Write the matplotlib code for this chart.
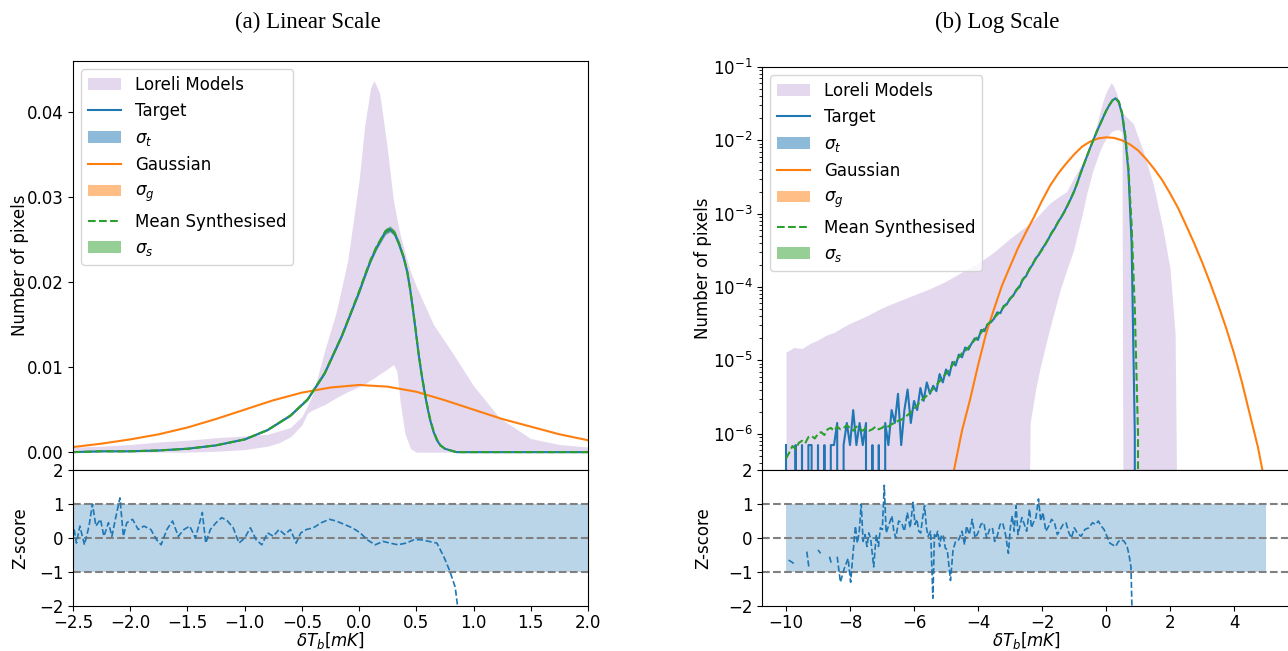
import numpy as np
import matplotlib
matplotlib.use('Agg')
import matplotlib.pyplot as plt

plt.rcParams['font.size'] = 12

# ---------------- (a) linear scale data ----------------
x_lin = [-2.5, -2.25, -2.0, -1.75, -1.5, -1.25, -1.0, -0.8, -0.6, -0.45, -0.3, -0.15,
         0.0, 0.05, 0.1, 0.15, 0.2, 0.23, 0.27, 0.31, 0.35, 0.39, 0.42, 0.445, 0.47,
         0.495, 0.52, 0.545, 0.57, 0.595, 0.62, 0.65, 0.68, 0.71, 0.75, 0.85, 1.0, 1.5, 2.0]
target_lin = [0.0000, 0.0001, 0.0001, 0.0002, 0.0004, 0.0008, 0.0015, 0.0026, 0.0043, 0.0062,
              0.0093, 0.0137, 0.0188, 0.0207, 0.0225, 0.0240, 0.0252, 0.0259, 0.0262, 0.0257,
              0.0244, 0.0228, 0.0212, 0.0192, 0.0168, 0.0142, 0.0115, 0.0092, 0.0072, 0.0054,
              0.0038, 0.0024, 0.0014, 0.0008, 0.0004, 0.0000, 0.0, 0.0, 0.0]
synth_lin = [0.0000, 0.0001, 0.0001, 0.0002, 0.0004, 0.0008, 0.0015, 0.0026, 0.0043, 0.0062,
             0.0093, 0.0137, 0.0189, 0.0208, 0.0226, 0.0241, 0.0253, 0.0260, 0.0263, 0.0258,
             0.0245, 0.0229, 0.0213, 0.0193, 0.0169, 0.0143, 0.0116, 0.0093, 0.0073, 0.0055,
             0.0039, 0.0025, 0.0015, 0.0008, 0.0004, 0.0000, 0.0, 0.0, 0.0]
sig_t_lin = [0, 0.00001, 0.00001, 0.00001, 0.00002, 0.00003, 0.00004, 0.00006, 0.00008, 0.0001,
             0.00013, 0.00016, 0.0002, 0.00022, 0.00024, 0.00026, 0.00028, 0.0003, 0.0003, 0.0003,
             0.00028, 0.00026, 0.00025, 0.00023, 0.00021, 0.00019, 0.00016, 0.00013, 0.0001,
             0.00008, 0.00006, 0.00004, 0.00003, 0.00002, 0.00001, 0, 0, 0, 0]
sig_s_lin = [0, 0.00001, 0.00001, 0.00002, 0.00002, 0.00003, 0.00005, 0.00007, 0.00009, 0.00011,
             0.00014, 0.00018, 0.00022, 0.00024, 0.00026, 0.00028, 0.0003, 0.00032, 0.00032, 0.00032,
             0.0003, 0.00028, 0.00027, 0.00025, 0.00023, 0.0002, 0.00017, 0.00014, 0.00011,
             0.00009, 0.00007, 0.00005, 0.00003, 0.00002, 0.00001, 0, 0, 0, 0]

x_lor_lin = [-2.5, -2.25, -2.0, -1.75, -1.5, -1.25, -1.0, -0.8, -0.7, -0.6, -0.5, -0.45, -0.4,
             -0.3, -0.2, -0.1, 0.0, 0.05, 0.1, 0.13, 0.18, 0.24, 0.3, 0.33, 0.36, 0.4, 0.45,
             0.5, 0.65, 0.82, 1.0, 1.23, 1.5, 1.75, 2.0]
lor_up_lin = [0.0006, 0.0007, 0.0009, 0.0012, 0.0014, 0.0017, 0.0019, 0.0021, 0.0025, 0.0029,
              0.0042, 0.0055, 0.0070, 0.0120, 0.0165, 0.0225, 0.0320, 0.0385, 0.0428, 0.0437,
              0.0422, 0.0364, 0.0296, 0.0275, 0.0255, 0.0235, 0.0212, 0.0195, 0.0150, 0.0116,
              0.0078, 0.0040, 0.0016, 0.0009, 0.0006]
lor_lo_lin = [0, 0, 0, 0, 0, 0.0001, 0.0003, 0.0007, 0.0011, 0.0018, 0.0032, 0.0046, 0.0050,
              0.0056, 0.0064, 0.0071, 0.0077, 0.0080, 0.0085, 0.0087, 0.0092, 0.0097, 0.0103,
              0.0095, 0.0058, 0.0022, 0.0004, 0, 0, 0, 0, 0, 0, 0, 0]

x_gauss_lin = [-2.5, -2.25, -2.0, -1.75, -1.5, -1.25, -1.0, -0.75, -0.5, -0.25, 0.0,
               0.25, 0.5, 0.75, 1.0, 1.25, 1.5, 1.75, 2.0]
gauss_lin = [0.0006, 0.0010, 0.0015, 0.0021, 0.0029, 0.0039, 0.0050, 0.0061, 0.0070, 0.0076,
             0.0079, 0.0077, 0.0071, 0.0061, 0.0050, 0.0039, 0.0030, 0.0021, 0.0014]

z_x_lin = [-2.49, -2.47, -2.44, -2.40, -2.36, -2.33, -2.30, -2.26, -2.23, -2.19, -2.16, -2.13,
           -2.09, -2.06, -2.03, -1.98, -1.93, -1.88, -1.82, -1.77, -1.73, -1.68, -1.63, -1.58,
           -1.53, -1.48, -1.43, -1.37, -1.34, -1.30, -1.25, -1.20, -1.15, -1.10, -1.05, -1.00,
           -0.95, -0.90, -0.85, -0.80, -0.75, -0.70, -0.65, -0.60, -0.55, -0.51, -0.46, -0.40,
           -0.33, -0.26, -0.20, -0.13, -0.06, 0.01, 0.07, 0.14, 0.21, 0.27, 0.34, 0.41, 0.48,
           0.54, 0.61, 0.68, 0.74, 0.79, 0.84, 0.86, 0.88]
z_lin = [0.25, -0.15, 0.35, -0.2, 0.35, 1.0, 0.35, 0.55, 0.05, 0.45, 0.05, 0.55,
         1.18, 0.05, 0.45, 0.55, 0.25, 0.35, 0.25, -0.05, -0.2, 0.25, 0.5, 0.05,
         0.25, 0.35, 0.0, 0.75, -0.15, 0.25, 0.45, 0.6, 0.5, 0.3, -0.15, 0.0,
         0.3, -0.05, -0.2, 0.15, 0.05, 0.25, 0.1, 0.25, -0.15, 0.15, 0.25, 0.3,
         0.45, 0.55, 0.5, 0.4, 0.3, 0.15, -0.05, -0.2, -0.1, -0.15, -0.2, -0.15, -0.05,
         -0.05, -0.1, -0.15, -0.55, -0.95, -1.45, -2.0, -3.0]
zband_x_lin = [-2.5, 2.0]

# ---------------- (b) log scale data ----------------
x_log = np.round(np.linspace(-10.0, 1.1, 112), 2)
target_log = [7e-7, 0, 0, 7e-7, 0, 7e-7, 0, 7e-7, 7e-7, 0,
              7e-7, 0, 7e-7, 0, 7e-7, 7e-7, 1.4e-6, 0, 7e-7, 1.4e-6,
              7e-7, 2.1e-6, 7e-7, 1.4e-6, 7e-7, 1.4e-6, 0, 7e-7, 0, 7e-7,
              0, 1.4e-6, 7e-7, 2.1e-6, 1.4e-6, 3.5e-6, 7e-7, 2.1e-6, 4.0e-6, 1.4e-6,
              2.8e-6, 2.1e-6, 4.2e-6, 2.8e-6, 5.0e-6, 3.5e-6, 4.5e-6, 3.8e-6, 6.5e-6, 5.0e-6,
              7.5e-6, 6.2e-6, 9.5e-6, 8.5e-6, 1.2e-5, 1.1e-5, 1.5e-5, 1.4e-5, 1.7e-5, 2.0e-5,
              1.9e-5, 2.6e-5, 2.5e-5, 3.1e-5, 3.3e-5, 3.7e-5, 4.5e-5, 4.4e-5, 5.5e-5, 5.8e-5,
              7.0e-5, 7.6e-5, 9.2e-5, 1.0e-4, 1.28e-4, 1.4e-4, 1.75e-4, 2.0e-4, 2.45e-4, 2.75e-4,
              3.3e-4, 3.8e-4, 4.5e-4, 5.5e-4, 6.3e-4, 7.7e-4, 8.9e-4, 1.07e-3, 1.3e-3, 1.6e-3,
              2.0e-3, 2.6e-3, 3.5e-3, 4.6e-3, 6.0e-3, 7.8e-3, 1.0e-2, 1.28e-2, 1.6e-2, 2.0e-2,
              2.5e-2, 3.0e-2, 3.5e-2, 3.75e-2, 3.3e-2, 2.3e-2, 1.1e-2, 3.8e-3, 4.0e-4, 1.0e-6,
              0, 0]
synth_log = [4.6e-7, 5.5e-7, 6.8e-7, 6.2e-7, 7.5e-7, 8.0e-7, 7.4e-7, 9.0e-7, 9.3e-7, 8.6e-7,
             1.0e-6, 1.05e-6, 9.6e-7, 1.15e-6, 1.2e-6, 1.1e-6, 1.25e-6, 1.15e-6, 1.2e-6, 1.3e-6,
             1.2e-6, 1.1e-6, 1.25e-6, 1.15e-6, 1.1e-6, 1.2e-6, 1.1e-6, 1.15e-6, 1.25e-6, 1.15e-6,
             1.2e-6, 1.3e-6, 1.25e-6, 1.35e-6, 1.4e-6, 1.5e-6, 1.55e-6, 1.65e-6, 1.8e-6, 1.95e-6,
             2.2e-6, 2.4e-6, 2.8e-6, 3.0e-6, 3.3e-6, 3.7e-6, 4.1e-6, 4.6e-6, 5.2e-6, 5.9e-6,
             6.6e-6, 7.5e-6, 8.6e-6, 1.0e-5, 1.1e-5, 1.25e-5, 1.35e-5, 1.5e-5, 1.7e-5, 1.9e-5,
             2.1e-5, 2.4e-5, 2.7e-5, 3.1e-5, 3.4e-5, 3.8e-5, 4.2e-5, 4.7e-5, 5.3e-5, 6.0e-5,
             6.8e-5, 7.8e-5, 9.0e-5, 1.05e-4, 1.25e-4, 1.45e-4, 1.7e-4, 2.05e-4, 2.4e-4, 2.8e-4,
             3.2e-4, 3.8e-4, 4.6e-4, 5.4e-4, 6.4e-4, 7.6e-4, 9.0e-4, 1.06e-3, 1.3e-3, 1.6e-3,
             2.0e-3, 2.6e-3, 3.5e-3, 4.6e-3, 6.0e-3, 7.8e-3, 1.0e-2, 1.28e-2, 1.6e-2, 2.0e-2,
             2.5e-2, 3.0e-2, 3.5e-2, 3.75e-2, 3.4e-2, 2.4e-2, 1.2e-2, 4.2e-3, 7.0e-4, 5.0e-5,
             1.0e-6, 0]

x_lor_log = [-10.0, -9.75, -9.5, -9.25, -9.0, -8.75, -8.5, -8.25, -8.0, -7.5, -7.0, -6.5,
             -6.0, -5.5, -5.0, -4.5, -4.0, -3.5, -3.0, -2.45,
             -2.37, -2.2, -2.06, -1.75, -1.44, -1.23, -1.02, -0.75, -0.6, -0.4, -0.19, -0.09,
             0.0, 0.16, 0.23, 0.34, 0.39, 0.5, 0.54,
             0.85, 1.16, 1.48, 1.79, 2.0, 2.16, 2.26]
lor_up_log = [1.3e-5, 1.5e-5, 1.45e-5, 1.7e-5, 1.9e-5, 2.2e-5, 2.4e-5, 2.8e-5, 3.2e-5, 4.0e-5,
              5.2e-5, 6.4e-5, 7.8e-5, 9.5e-5, 1.2e-4, 1.6e-4, 2.1e-4, 3.0e-4, 4.6e-4, 7.0e-4,
              7.4e-4, 8.6e-4, 1.0e-3, 1.4e-3, 1.75e-3, 2.0e-3, 3.0e-3, 4.8e-3, 6.5e-3, 1.1e-2,
              2.4e-2, 3.5e-2, 4.5e-2, 6.1e-2, 5.6e-2, 4.3e-2, 3.4e-2, 2.5e-2, 2.3e-2,
              1.7e-2, 7.2e-3, 2.5e-3, 5.9e-4, 1.8e-4, 2.3e-5, 1e-9]
lor_lo_log = [1e-9] * 20 + [1.4e-6, 4.0e-6, 7.9e-6, 2.8e-5, 8.9e-5, 1.7e-4, 3.1e-4, 9.5e-4,
                            1.9e-3, 4.0e-3, 7.2e-3, 9.0e-3, 1.05e-2, 1.3e-2, 1.35e-2, 1.4e-2,
                            1.4e-2, 1.3e-2, 1e-9] + [1e-9] * 7

x_gauss_log = [-4.9, -4.75, -4.5, -4.25, -4.0, -3.75, -3.5, -3.25, -3.0, -2.75, -2.5, -2.25,
               -2.0, -1.75, -1.5, -1.25, -1.0, -0.75, -0.5, -0.25, 0.0, 0.25, 0.5, 0.75,
               1.0, 1.25, 1.5, 1.75, 2.0, 2.25, 2.5, 2.75, 3.0, 3.25, 3.5, 3.75, 4.0, 4.25,
               4.5, 4.75, 4.9]
gauss_log = [2.0e-7, 3.2e-7, 1.1e-6, 2.9e-6, 8.5e-6, 2.3e-5, 5.0e-5, 1.05e-4, 1.9e-4, 3.4e-4,
             5.6e-4, 9.0e-4, 1.5e-3, 2.4e-3, 3.5e-3, 4.8e-3, 6.4e-3, 8.2e-3, 9.6e-3, 1.06e-2,
             1.1e-2, 1.08e-2, 1.0e-2, 8.8e-3, 7.3e-3, 5.6e-3, 4.1e-3, 2.9e-3, 1.9e-3, 1.2e-3,
             7.0e-4, 4.0e-4, 2.2e-4, 1.15e-4, 5.8e-5, 2.8e-5, 1.25e-5, 5.0e-6, 1.8e-6, 6.5e-7,
             3.0e-7]

nan = np.nan
z_x_log = [-9.92, -9.83, -9.76, nan, -9.35, -9.28, nan, -9.0, -8.92, nan, -8.64, -8.57, nan,
           -8.40, -8.30, -8.18, -8.06, -7.98, -7.91, -7.83, -7.77, -7.71, -7.65, -7.59, -7.53,
           -7.47, -7.41, -7.35, -7.26, -7.18, -7.11, -7.05, -6.99, -6.93, -6.87, -6.78, -6.69,
           -6.63, -6.57, -6.48, -6.39, -6.30, -6.21, -6.12, -6.03, -5.97, -5.91, -5.85, -5.79,
           -5.73, -5.67, -5.61, -5.56, -5.48, -5.41, -5.36, -5.32, -5.26, -5.20, -5.14, -5.08,
           -5.02, -4.96, -4.86, -4.78, -4.70, -4.60, -4.50, -4.42, -4.36, -4.27, -4.18, -4.09,
           -4.00, -3.91, -3.82, -3.73, -3.64, -3.55, -3.48, -3.40, -3.31, -3.23, -3.14, -3.05,
           -2.99, -2.93, -2.87, -2.81, -2.75, -2.69, -2.63, -2.57, -2.48, -2.39, -2.33, -2.27,
           -2.19, -2.11, -2.04, -1.97, -1.88, -1.79, -1.70, -1.61, -1.52, -1.43, -1.34, -1.25,
           -1.16, -1.08, -0.99, -0.90, -0.78, -0.66, -0.54, -0.42, -0.33, -0.24, -0.15, -0.06,
           0.03, 0.12, 0.21, 0.30, 0.39, 0.48, 0.57, 0.66, 0.72, 0.78, 0.81, 0.84]
z_log = [-0.65, -0.7, -0.75, nan, -0.4, -0.9, nan, -0.35, -0.45, nan, -0.55, -0.8, nan,
         -0.55, -1.3, -0.9, -0.6, -1.3, -0.5, 0.35, -0.15, 0.2, 1.0, -0.1, 0.1,
         -0.25, 0.15, -0.05, -0.85, 0.1, -0.25, 0.3, 0.25, 1.55, 0.15, 0.4, 0.65,
         0.2, 0.0, 0.5, 0.45, 0.2, 0.75, 0.3, 1.05, 0.4, 0.55, 0.2, 0.15,
         0.6, 0.95, 0.3, 0.05, 0.2, -1.77, 0.1, 0.0, 0.2, -0.25, 0.1, 0.05,
         -0.3, -0.35, -1.25, -0.35, -0.1, -0.05, 0.2, -0.2, 0.35, 0.1, 0.55, 0.0,
         0.15, 0.4, 0.45, 0.0, 0.25, 0.3, -0.1, 0.05, 0.4, 0.45, 0.1, -0.45,
         0.3, 0.65, 0.2, 0.95, 0.1, 0.35, 0.6, 0.45, 0.2, 0.85, 0.3, 0.45,
         0.6, 1.15, 0.5, 0.75, 0.2, 0.35, 0.55, 0.45, 0.1, 0.25, 0.4, 0.45,
         0.15, 0.0, 0.3, 0.15, 0.05, 0.25, 0.3, 0.45, 0.4, 0.5, 0.35, 0.25,
         0.05, -0.15, -0.2, -0.25, -0.1, -0.05, -0.1, -0.25, -0.5, -0.85, -2.0, -3.0]
zband_x_log = [-10.0, 5.0]

# ---------------- figure ----------------
W, H = 1288, 651
fig = plt.figure(figsize=(W / 100, H / 100), dpi=100)

ax1 = fig.add_axes([73 / W, 1 - 470 / H, 515 / W, 409 / H])
ax2 = fig.add_axes([73 / W, 1 - 606 / H, 515 / W, 136 / H], sharex=ax1)
ax3 = fig.add_axes([762 / W, 1 - 470 / H, 528 / W, 403 / H])
ax4 = fig.add_axes([762 / W, 1 - 606 / H, 528 / W, 136 / H], sharex=ax3)

# (a) linear
ax1.fill_between(x_lor_lin, lor_lo_lin, lor_up_lin, color='tab:purple', alpha=0.25, lw=0,
                 label='Loreli Models')
t = np.array(target_lin)
s = np.array(synth_lin)
ax1.plot(x_lin, t, color='C0', lw=1.5, label='Target')
ax1.fill_between(x_lin, t - np.array(sig_t_lin), t + np.array(sig_t_lin), color='C0',
                 alpha=0.5, lw=0, label=r'$\sigma_t$')
ax1.plot(x_gauss_lin, gauss_lin, color='C1', lw=1.5, label='Gaussian')
ax1.fill_between(x_gauss_lin, gauss_lin, gauss_lin, color='C1', alpha=0.5, lw=0,
                 label=r'$\sigma_g$')
ax1.plot(x_lin, s, color='C2', lw=1.5, ls='--', label='Mean Synthesised')
ax1.fill_between(x_lin, s - np.array(sig_s_lin), s + np.array(sig_s_lin), color='C2',
                 alpha=0.5, lw=0, label=r'$\sigma_s$')
ax1.set_xlim(-2.5, 2.0)
ax1.set_ylim(-0.0021, 0.046)
ax1.set_yticks([0.0, 0.01, 0.02, 0.03, 0.04])
ax1.set_ylabel('Number of pixels')
ax1.tick_params(axis='x', bottom=False, labelbottom=False)
ax1.legend(loc='upper left')

ax2.fill_between(zband_x_lin, [-1, -1], [1, 1], color='C0', alpha=0.3, lw=0)
for yv in [-1, 0, 1]:
    ax2.axhline(yv, color='gray', ls='--', lw=1.5)
ax2.plot(z_x_lin, z_lin, color='C0', ls='--', lw=1.2)
ax2.set_ylim(-2, 2)
ax2.set_yticks([-2, -1, 0, 1, 2])
ax2.set_xticks(np.arange(-2.5, 2.01, 0.5))
ax2.tick_params(axis='x', pad=2.5)
ax2.set_ylabel('Z-score')
ax2.set_xlabel(r'$\delta T_b [mK]$', labelpad=-1.5)

# (b) log
ax3.set_yscale('log')
ax3.fill_between(x_lor_log, lor_lo_log, lor_up_log, color='tab:purple', alpha=0.25, lw=0,
                 label='Loreli Models')
ax3.plot(x_log, target_log, color='C0', lw=1.5, label='Target')
ax3.fill_between(x_log, target_log, target_log, color='C0', alpha=0.5, lw=0,
                 label=r'$\sigma_t$')
ax3.plot(x_gauss_log, gauss_log, color='C1', lw=1.5, label='Gaussian')
ax3.fill_between(x_gauss_log, gauss_log, gauss_log, color='C1', alpha=0.5, lw=0,
                 label=r'$\sigma_g$')
ax3.plot(x_log, synth_log, color='C2', lw=1.5, ls='--', label='Mean Synthesised')
ax3.fill_between(x_log, synth_log, synth_log, color='C2', alpha=0.5, lw=0,
                 label=r'$\sigma_s$')
ax3.set_xlim(-10.75, 5.75)
ax3.set_ylim(3.2e-7, 0.1)
ax3.set_ylabel('Number of pixels')
ax3.tick_params(axis='x', bottom=False, labelbottom=False)
ax3.legend(loc='upper left')

ax4.fill_between(zband_x_log, [-1, -1], [1, 1], color='C0', alpha=0.3, lw=0)
for yv in [-1, 0, 1]:
    ax4.axhline(yv, color='gray', ls='--', lw=1.5)
ax4.plot(z_x_log, z_log, color='C0', ls='--', lw=1.2)
ax4.set_ylim(-2, 2)
ax4.set_yticks([-2, -1, 0, 1, 2])
ax4.set_xticks([-10, -8, -6, -4, -2, 0, 2, 4])
ax4.tick_params(axis='x', pad=2.5)
ax4.set_ylabel('Z-score')
ax4.set_xlabel(r'$\delta T_b [mK]$', labelpad=-1.5)

# y labels sit at the same x in each column
for ax in (ax1, ax2):
    ax.yaxis.set_label_coords(-0.085, 0.5)
for ax in (ax3, ax4):
    ax.yaxis.set_label_coords(-0.094, 0.5)

fig.text(308 / W, 1 - 22 / H, '(a) Linear Scale', ha='center', va='center',
         family='Liberation Serif', fontsize=16.5)
fig.text(997 / W, 1 - 22 / H, '(b) Log Scale', ha='center', va='center',
         family='Liberation Serif', fontsize=16.5)

fig.savefig('out.png', dpi=100)
